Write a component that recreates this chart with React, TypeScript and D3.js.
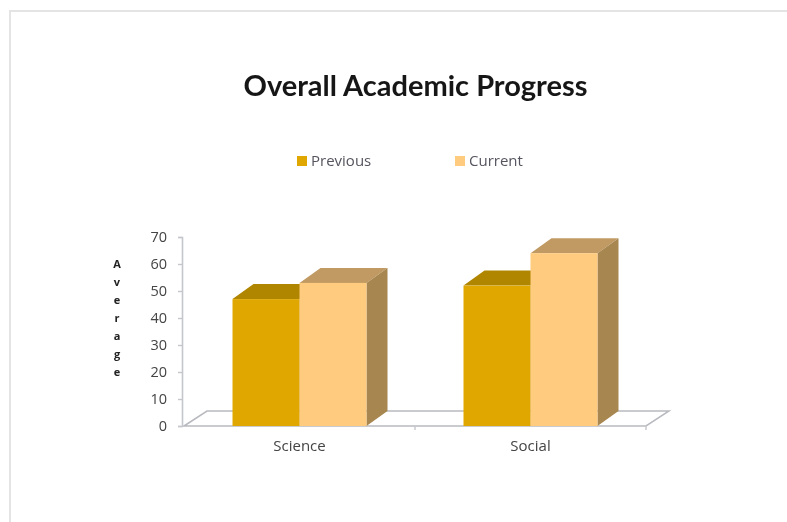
import React, { useEffect, useRef } from 'react';
import * as d3 from 'd3';

const categories = ['Science', 'Social'];
const seriesNames = ['Previous', 'Current'];
const previous = [47, 52];
const current = [53, 64];
const yTicks = [0, 10, 20, 30, 40, 50, 60, 70];
const axisLetters = ['A', 'v', 'e', 'r', 'a', 'g', 'e'];

const frontColors = ['#E0A700', '#FFCB7E'];
const topColors = ['#B08500', '#C09A62'];
const sideColors = ['#A88200', '#A8864F'];

const width = 787;
const height = 522;
const margin = { l: 184, r: 141, t: 237, b: 96 };
const depthX = 21;
const depthY = 15;
const font = '"Open Sans", "Noto Sans", sans-serif';
const titleFont = 'Lato, "Open Sans", sans-serif';

export default function App() {
  const $yAxis: any = useRef(null);

  const y = d3
    .scaleLinear()
    .domain([0, 70])
    .range([height - margin.b, margin.t]);
  const x0 = d3
    .scaleBand()
    .domain(categories)
    .range([margin.l, width - margin.r])
    .paddingInner(0)
    .paddingOuter(0);
  const x1 = d3
    .scaleBand()
    .domain(seriesNames)
    .range([0, 134]);
  const groupOffset = (x0.bandwidth() - 134) / 2;
  const y0 = y(0);
  const values = [previous, current];

  useEffect(() => {
    const axis = d3.axisLeft(y).tickValues(yTicks).tickSize(4).tickPadding(11);
    const g = d3.select($yAxis.current);
    g.call(axis as any);
    g.select('.domain').attr('stroke', '#c4c6cc').attr('stroke-width', 1.6);
    g.selectAll('.tick line').attr('stroke', '#c4c6cc').attr('stroke-width', 1.4);
    g.selectAll('.tick text')
      .attr('fill', '#444')
      .style('font-family', font)
      .style('font-size', '14.5px');
  }, []);

  const xLeft = x0.range()[0];
  const xRight = x0.range()[1];
  const floor = d3.path();
  floor.moveTo(xLeft, y0);
  floor.lineTo(xLeft + depthX + 2, y0 - depthY);
  floor.lineTo(xRight + depthX + 2, y0 - depthY);
  floor.lineTo(xRight, y0);
  floor.closePath();

  return (
    <svg
      width={width}
      height={height}
      style={{ position: 'absolute', left: 0, top: 0, background: '#fff' }}
    >
      <defs>
        <filter id="soft" x="-5%" y="-5%" width="110%" height="110%">
          <feGaussianBlur stdDeviation="0.7" />
        </filter>
      </defs>
      <g filter="url(#soft)">
        <path d={`M10,${height} V11 H${width}`} fill="none" stroke="#e4e4e4" strokeWidth={2} />

        <text
          x={415.5}
          y={96}
          textAnchor="middle"
          fontFamily={titleFont}
          fontWeight={700}
          fontSize={29}
          fill="#161616"
        >
          Overall Academic Progress
        </text>

        {seriesNames.map((name, i) => (
          <g key={name} transform={`translate(${[297, 455][i]},156)`}>
            <rect width={10} height={10} fill={frontColors[i]} />
            <text x={14} y={10} fontFamily={font} fontSize={15} fill="#55555f">
              {name}
            </text>
          </g>
        ))}

        <path d={floor.toString()} fill="#fff" stroke="#b9bac0" strokeWidth={1.5} />
        <line x1={xRight} x2={xRight} y1={y0} y2={y0 + 4} stroke="#c4c6cc" strokeWidth={1.4} />
        <line
          x1={x0('Social') as number}
          x2={x0('Social') as number}
          y1={y0}
          y2={y0 + 4}
          stroke="#c4c6cc"
          strokeWidth={1.4}
        />

        <g ref={$yAxis} transform={`translate(${margin.l - 2},0)`} />

        {axisLetters.map((letter, i) => (
          <text
            key={i}
            x={117}
            y={268 + i * 18}
            textAnchor="middle"
            fontFamily={font}
            fontWeight={700}
            fontSize={11}
            fill="#222"
          >
            {letter}
          </text>
        ))}

        {categories.map((cat, c) => (
          <g key={cat} transform={`translate(${(x0(cat) as number) + groupOffset},0)`}>
            {seriesNames.map((name, s) => {
              const left = x1(name) as number;
              const right = left + x1.bandwidth();
              const top = y(values[s][c]);
              const topFace = d3.path();
              topFace.moveTo(left, top);
              topFace.lineTo(left + depthX, top - depthY);
              topFace.lineTo(right + depthX, top - depthY);
              topFace.lineTo(right, top);
              topFace.closePath();
              const sideFace = d3.path();
              sideFace.moveTo(right, top);
              sideFace.lineTo(right + depthX, top - depthY);
              sideFace.lineTo(right + depthX, y0 - depthY);
              sideFace.lineTo(right, y0);
              sideFace.closePath();
              return (
                <g key={name}>
                  <path d={topFace.toString()} fill={topColors[s]} />
                  <path d={sideFace.toString()} fill={sideColors[s]} />
                  <rect
                    x={left}
                    y={top}
                    width={x1.bandwidth()}
                    height={y0 - top}
                    fill={frontColors[s]}
                  />
                </g>
              );
            })}
          </g>
        ))}

        {categories.map((cat) => (
          <text
            key={cat}
            x={(x0(cat) as number) + x0.bandwidth() / 2}
            y={451}
            textAnchor="middle"
            fontFamily={font}
            fontSize={15}
            fill="#444"
          >
            {cat}
          </text>
        ))}
      </g>
    </svg>
  );
}
